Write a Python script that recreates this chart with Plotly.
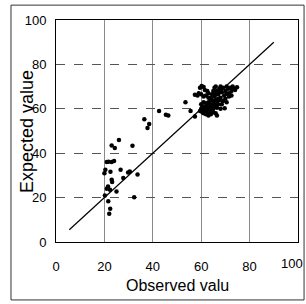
import plotly.graph_objects as go

obs = [22, 20, 20.4, 21, 21.7, 20.2, 22.5, 23, 21.6, 22.4, 23, 24.3, 24, 23, 23.2, 21, 22.3, 21.5, 25, 26, 26.7, 27.8,
       29.8, 30.5, 31.6, 32.3, 33.7, 36.5, 37.8, 38.5, 42.6, 45.4, 46.4, 53.5, 55.6, 57.4, 57.4,
       59.5, 60.2, 61, 61.5, 59, 58.5, 60, 62, 61, 63, 62.5,
       60, 60.5, 61, 61.5, 62, 62.5, 63, 63.5, 64, 64.5, 65, 65.5, 66, 66.5, 60, 61, 62, 63, 64, 65, 66, 67, 67.5,
       62, 63, 64, 61, 65, 60.5, 59.5, 62.5, 63.5, 64.5, 66, 68, 66.5,
       64, 64.5, 65, 65.5, 66, 66.5, 67, 67.5, 68, 68.5, 69, 69.5, 70, 70.5, 71, 71.5, 72, 72.5, 73, 73.5, 74, 74.8,
       70, 69, 68, 67, 65.5, 66.5, 64, 69.7, 70.5, 71.5, 72.5, 68.5, 63, 66, 68, 70.5]
exp = [12.7, 31, 32.5, 36, 36.2, 21, 31.6, 36, 18.3, 15, 43.5, 42.3, 36.5, 28, 27, 24, 23.5, 25, 22.8, 46, 32.5, 28.8,
       31.3, 31.8, 43.3, 20.2, 30.4, 55.3, 51.3, 53.2, 59, 57.3, 57, 63, 59, 66.3, 56.5,
       69.5, 70.3, 69.8, 68.5, 67, 66, 66.5, 66, 65.5, 67, 68,
       60, 61, 59.5, 60.5, 58.5, 61.5, 60, 58, 59.5, 61, 60, 62, 58, 60.5, 62, 63, 62.5, 63, 62, 63.5, 64, 62, 64,
       57.5, 57, 57.5, 58, 58.5, 58.5, 59, 59.5, 61, 59, 61.5, 60, 57,
       65, 66.5, 68, 69.5, 70, 68, 66.5, 69, 70, 67.5, 69.5, 66, 68, 70, 69, 67, 69.5, 68, 70, 69, 68.5, 69.7,
       64.5, 63.5, 65, 64.5, 65.5, 63.5, 64, 60.3, 63, 65.5, 66, 62, 65, 66.5, 68, 66.8]

fit_x = [5.5, 90]
fit_y = [5.5, 90]

x_ticks = [0, 20, 40, 60, 80]
x_last_tick = 100
y_ticks = [0, 20, 40, 60, 80, 100]
x_title = "Observed valu"
y_title = "Expected value"

tick_font = "Liberation Sans, Arial, sans-serif"

fig = go.Figure()
fig.add_trace(go.Scatter(x=fit_x, y=fit_y, mode="lines", line=dict(color="black", width=1.2), hoverinfo="skip"))
fig.add_trace(go.Scatter(x=obs, y=exp, mode="markers", marker=dict(color="black", size=4.5, line=dict(width=0))))

fig.update_layout(
    width=306, height=304,
    margin=dict(l=56, r=8, t=20, b=62),
    paper_bgcolor="white", plot_bgcolor="white",
    showlegend=False,
    font=dict(family=tick_font, color="black", size=13),
    xaxis=dict(range=[0, 100], tickvals=x_ticks, showgrid=True, gridcolor="#8a8a8a", gridwidth=1,
               zeroline=False, showline=True, linecolor="black", linewidth=1, mirror=True, ticks="",
               ticklabelstandoff=12, tickfont=dict(size=13), fixedrange=True),
    yaxis=dict(range=[0, 100], tickvals=y_ticks, showgrid=True, gridcolor="#555", griddash="dash", gridwidth=1,
               zeroline=False, showline=True, linecolor="black", linewidth=1, mirror=True, ticks="",
               ticklabelstandoff=6, tickfont=dict(size=13), fixedrange=True),
    annotations=[
        dict(text=str(x_last_tick), x=1.029, xref="paper", y=-0.095, yref="paper", yanchor="middle",
             xanchor="right", showarrow=False, font=dict(size=13, family=tick_font)),
        dict(text=x_title, x=0.5, xref="paper", y=-0.194, yref="paper", xanchor="center", yanchor="middle",
             showarrow=False, font=dict(size=16, family=tick_font)),
        dict(text=y_title, x=-0.12, xref="paper", y=0.5, yref="paper", xanchor="center", yanchor="middle",
             textangle=-90, showarrow=False, font=dict(size=18, family="Arial, Liberation Sans, sans-serif")),
    ],
    shapes=[dict(type="rect", xref="paper", yref="paper", x0=-0.186, x1=1.025, y0=-0.261, y1=1.067,
                 line=dict(color="#333", width=1))],
)

fig.write_html("out.html", config={"displayModeBar": False},
               post_script="document.body.style.margin='0';document.body.style.overflow='hidden';")
